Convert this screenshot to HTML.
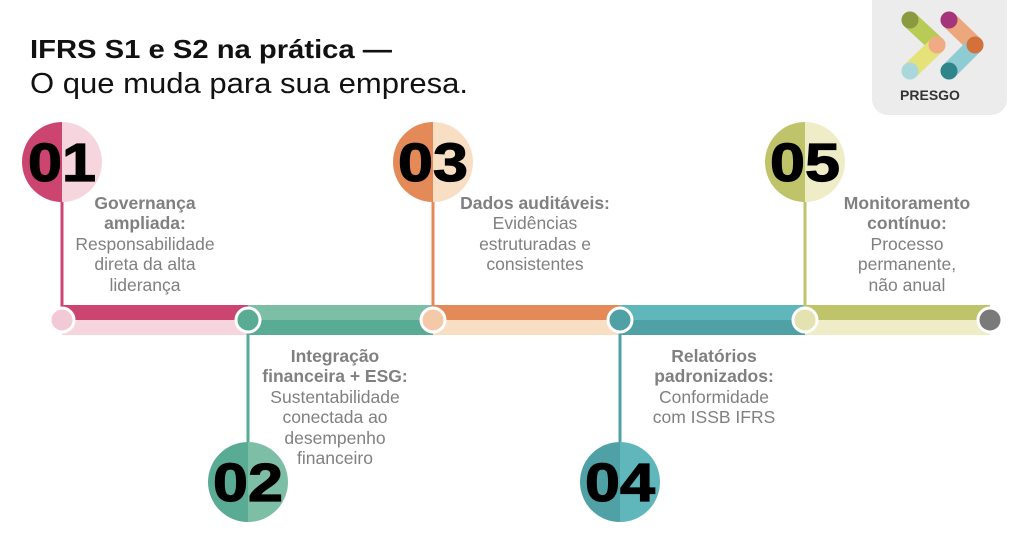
<!DOCTYPE html>
<html><head><meta charset="utf-8"><style>
html,body{margin:0;padding:0;background:#fff;}
svg{display:block;font-family:"Liberation Sans",sans-serif;}
</style></head><body>
<svg width="1024" height="536" viewBox="0 0 1024 536" xmlns="http://www.w3.org/2000/svg">
<rect width="1024" height="536" fill="#fff"/>
<text x="30" y="58" font-size="26" font-weight="bold" fill="#111" textLength="362" lengthAdjust="spacingAndGlyphs">IFRS S1 e S2 na prática —</text>
<text x="30" y="93" font-size="29" fill="#111" textLength="438" lengthAdjust="spacingAndGlyphs">O que muda para sua empresa.</text>
<!-- logo -->
<rect x="872" y="-20" width="135" height="135" rx="16" fill="#ececec"/>
<g stroke-linecap="round" stroke-width="17">
<line x1="910" y1="20" x2="937" y2="45" stroke="#b7cb56"/>
<line x1="937" y1="45" x2="910" y2="71" stroke="#e5e27a"/>
<line x1="949" y1="20" x2="975" y2="45" stroke="#eca77c"/>
<line x1="975" y1="45" x2="949" y2="71" stroke="#8fcbd2"/>
</g>
<circle cx="910" cy="20" r="8.5" fill="#8a9a40"/>
<circle cx="937" cy="45" r="8.5" fill="#f0aa84"/>
<circle cx="910" cy="71" r="8.5" fill="#a9d7dc"/>
<circle cx="949" cy="20" r="8.5" fill="#a5357a"/>
<circle cx="975" cy="45" r="8.5" fill="#d4703a"/>
<circle cx="949" cy="71" r="8.5" fill="#2e858a"/>
<text x="930" y="100" font-size="14" font-weight="bold" fill="#333" text-anchor="middle">PRESGO</text>
<!-- bar -->
<rect x="62" y="305" width="186" height="15" fill="#cc4470"/><rect x="62" y="320" width="186" height="15" fill="#f7d5df"/>
<rect x="248" y="305" width="185" height="15" fill="#7dbea7"/><rect x="248" y="320" width="185" height="15" fill="#5aab94"/>
<rect x="433" y="305" width="187" height="15" fill="#e48a58"/><rect x="433" y="320" width="187" height="15" fill="#f8dfc4"/>
<rect x="620" y="305" width="185" height="15" fill="#5fb7bb"/><rect x="620" y="320" width="185" height="15" fill="#4fa1a6"/>
<rect x="805" y="305" width="185" height="15" fill="#bfc46a"/><rect x="805" y="320" width="185" height="15" fill="#efedc8"/>
<!-- stems -->
<g stroke-width="3">
<line x1="62" y1="190" x2="62" y2="320" stroke="#cc4470"/>
<line x1="433" y1="190" x2="433" y2="320" stroke="#e48a58"/>
<line x1="805" y1="190" x2="805" y2="320" stroke="#bfc46a"/>
<line x1="248" y1="320" x2="248" y2="460" stroke="#5aab94"/>
<line x1="620" y1="320" x2="620" y2="460" stroke="#4fa1a6"/>
</g>
<!-- bar nodes -->
<g stroke="#fff" stroke-width="3">
<circle cx="62" cy="320" r="12" fill="#f2c9d6"/>
<circle cx="248" cy="320" r="12" fill="#5aab94"/>
<circle cx="433" cy="320" r="12" fill="#f4c9a8"/>
<circle cx="620" cy="320" r="12" fill="#4fa1a6"/>
<circle cx="805" cy="320" r="12" fill="#e3e2b0"/>
<circle cx="990" cy="320" r="12" fill="#7a7a7a"/>
</g>
<!-- big circles -->
<g>
<path d="M62 122 A40 40 0 0 0 62 202 Z" fill="#cc4470"/><path d="M62 122 A40 40 0 0 1 62 202 Z" fill="#f7d5df"/>
<path d="M433 122 A40 40 0 0 0 433 202 Z" fill="#e48a58"/><path d="M433 122 A40 40 0 0 1 433 202 Z" fill="#f8dfc4"/>
<path d="M805 122 A40 40 0 0 0 805 202 Z" fill="#bfc46a"/><path d="M805 122 A40 40 0 0 1 805 202 Z" fill="#efedc8"/>
<path d="M248 442 A40 40 0 0 0 248 522 Z" fill="#5aab94"/><path d="M248 442 A40 40 0 0 1 248 522 Z" fill="#7dbea7"/>
<path d="M620 442 A40 40 0 0 0 620 522 Z" fill="#4fa1a6"/><path d="M620 442 A40 40 0 0 1 620 522 Z" fill="#5fb7bb"/>
</g>
<g font-size="54" font-weight="bold" fill="#000" stroke="#000" stroke-width="1.2">
<text x="28" y="181" textLength="68" lengthAdjust="spacingAndGlyphs">01</text>
<text x="398" y="181" textLength="70" lengthAdjust="spacingAndGlyphs">03</text>
<text x="770" y="181" textLength="70" lengthAdjust="spacingAndGlyphs">05</text>
<text x="213" y="501" textLength="70" lengthAdjust="spacingAndGlyphs">02</text>
<text x="585" y="501" textLength="70" lengthAdjust="spacingAndGlyphs">04</text>
</g>
<!-- labels -->
<g font-size="17.5" fill="#808080" text-anchor="middle">
<text x="145" y="209" font-weight="bold">Governança</text>
<text x="145" y="229" font-weight="bold">ampliada:</text>
<text x="145" y="250">Responsabilidade</text>
<text x="145" y="270">direta da alta</text>
<text x="145" y="291">liderança</text>
<text x="535" y="209" font-weight="bold">Dados auditáveis:</text>
<text x="535" y="229">Evidências</text>
<text x="535" y="250">estruturadas e</text>
<text x="535" y="270">consistentes</text>
<text x="907" y="209" font-weight="bold">Monitoramento</text>
<text x="907" y="229" font-weight="bold">contínuo:</text>
<text x="907" y="250">Processo</text>
<text x="907" y="270">permanente,</text>
<text x="907" y="291">não anual</text>
<text x="335" y="362" font-weight="bold">Integração</text>
<text x="335" y="382" font-weight="bold">financeira + ESG:</text>
<text x="335" y="403">Sustentabilidade</text>
<text x="335" y="423">conectada ao</text>
<text x="335" y="444">desempenho</text>
<text x="335" y="464">financeiro</text>
<text x="714" y="362" font-weight="bold">Relatórios</text>
<text x="714" y="382" font-weight="bold">padronizados:</text>
<text x="714" y="403">Conformidade</text>
<text x="714" y="423">com ISSB IFRS</text>
</g>
</svg>
</body></html>
